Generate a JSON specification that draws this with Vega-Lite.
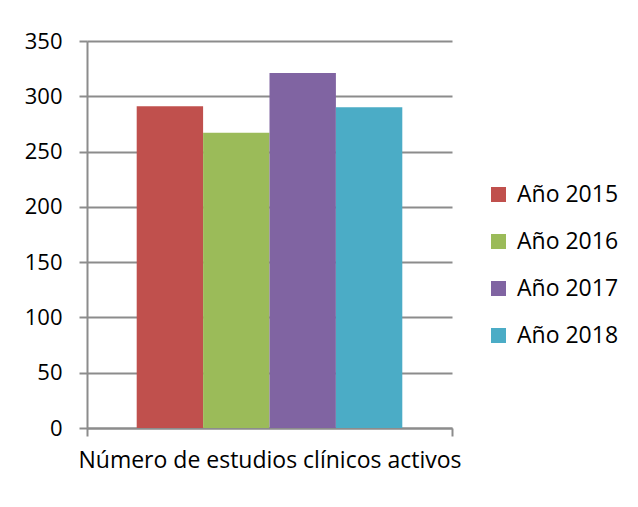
{
  "$schema": "https://vega.github.io/schema/vega-lite/v6.json",
  "width": 365,
  "height": 387,
  "autosize": {"type": "none"},
  "padding": {"left": 87, "top": 41, "right": 186, "bottom": 79},
  "background": "white",
  "data": {
    "values": [
      {"categoria": "Número de estudios clínicos activos", "serie": "Año 2015", "valor": 291},
      {"categoria": "Número de estudios clínicos activos", "serie": "Año 2016", "valor": 267},
      {"categoria": "Número de estudios clínicos activos", "serie": "Año 2017", "valor": 321},
      {"categoria": "Número de estudios clínicos activos", "serie": "Año 2018", "valor": 290}
    ]
  },
  "mark": {"type": "bar"},
  "encoding": {
    "x": {
      "field": "categoria",
      "type": "nominal",
      "scale": {"paddingInner": 0, "paddingOuter": 0},
      "axis": {
        "title": null,
        "labelAngle": 0,
        "tickBand": "extent",
        "ticks": true,
        "tickSize": 8,
        "tickColor": "#8c8c8c",
        "tickWidth": 2,
        "domainColor": "#8c8c8c",
        "domainWidth": 2,
        "labelFontSize": 23,
        "labelPadding": 13,
        "labelColor": "#000000",
        "labelLimit": 0
      }
    },
    "xOffset": {
      "field": "serie",
      "type": "nominal",
      "scale": {"paddingOuter": 0.7485, "paddingInner": 0}
    },
    "y": {
      "field": "valor",
      "type": "quantitative",
      "scale": {"domain": [0, 350]},
      "axis": {
        "title": null,
        "values": [0, 50, 100, 150, 200, 250, 300, 350],
        "grid": true,
        "gridColor": "#8c8c8c",
        "gridWidth": 2,
        "domainColor": "#8c8c8c",
        "domainWidth": 2,
        "tickColor": "#8c8c8c",
        "tickWidth": 2,
        "tickSize": 8,
        "labelFontSize": 22,
        "labelPadding": 17,
        "labelColor": "#000000"
      }
    },
    "color": {
      "field": "serie",
      "type": "nominal",
      "scale": {"range": ["#C0504D", "#9BBB59", "#8064A2", "#4BACC6"]},
      "legend": {
        "title": null,
        "orient": "none",
        "legendX": 400,
        "legendY": 142,
        "padding": 0,
        "symbolType": "square",
        "symbolSize": 225,
        "symbolStrokeWidth": 0,
        "symbolOpacity": 1,
        "labelFontSize": 23,
        "labelColor": "#000000",
        "labelOffset": 7,
        "rowPadding": 23
      }
    }
  },
  "config": {
    "font": "Open Sans",
    "view": {"stroke": null},
    "axis": {"labelFont": "Open Sans"},
    "legend": {"labelFont": "Open Sans"}
  }
}
